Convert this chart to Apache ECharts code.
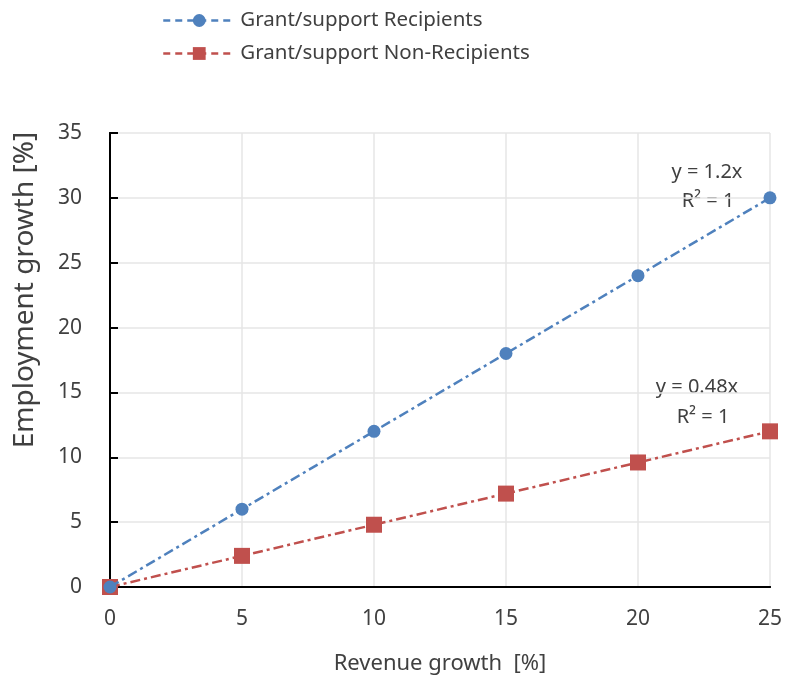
<!DOCTYPE html>
<html><head><meta charset="utf-8">
<script src="https://cdn.jsdelivr.net/npm/echarts@6/dist/echarts.min.js"></script>
<style>html,body{margin:0;padding:0;background:#fff}#c{width:785px;height:681px}</style>
</head><body><div id="c"></div>
<script>
const xValues = [0, 5, 10, 15, 20, 25];
const recipients = [0, 6, 12, 18, 24, 30];
const nonRecipients = [0, 2.4, 4.8, 7.2, 9.6, 12];
const seriesNames = ['Grant/support Recipients', 'Grant/support Non-Recipients'];
const xName = 'Revenue growth  [%]';
const yName = 'Employment growth [%]';
const eq1 = ['y = 1.2x', 'R² = 1'];
const eq2 = ['y = 0.48x', 'R² = 1'];

const FONT = '"Noto Sans", "Open Sans", sans-serif';
const TXT = '#404040';
const chart = echarts.init(document.getElementById('c'));
const pair = arr => xValues.map((x, i) => [x, arr[i]]);
const dash = [10, 4, 3, 4];
const blackLine = {show: true, lineStyle: {color: '#000', width: 2}};
chart.setOption({
  animation: false,
  grid: {left: 110, right: 14, top: 133, bottom: 94},
  legend: {
    orient: 'vertical', left: 157, top: 5, itemGap: 12, itemWidth: 72, itemHeight: 16,
    textStyle: {fontFamily: FONT, fontSize: 20.5, color: TXT},
    lineStyle: {type: [7, 5], width: 2.5},
    data: seriesNames
  },
  xAxis: [{
    type: 'value', min: 0, max: 25, interval: 5,
    name: xName, nameLocation: 'middle', nameGap: 66,
    nameTextStyle: {fontFamily: FONT, fontSize: 22, color: TXT},
    axisLine: blackLine,
    axisTick: {show: false},
    axisLabel: {fontFamily: FONT, fontSize: 21, color: TXT, margin: 22},
    splitLine: {show: true, lineStyle: {color: '#e6e6e6', width: 1.5}}
  }, {
    type: 'value', position: 'top', min: 0, max: 25, interval: 5,
    axisLine: blackLine, axisTick: {show: false}, axisLabel: {show: false}, splitLine: {show: false}
  }],
  yAxis: [{
    type: 'value', min: 0, max: 35, interval: 5,
    axisLine: blackLine,
    axisTick: {show: true, inside: true, length: 8, lineStyle: {color: '#000', width: 2}},
    axisLabel: {fontFamily: FONT, fontSize: 21, color: TXT, margin: 28},
    splitLine: {show: true, lineStyle: {color: '#e6e6e6', width: 1.5}}
  }, {
    type: 'value', position: 'right', min: 0, max: 35, interval: 5,
    axisLine: blackLine, axisTick: {show: false}, axisLabel: {show: false}, splitLine: {show: false}
  }],
  series: [
    {name: seriesNames[0], type: 'line', data: pair(recipients), symbol: 'circle', symbolSize: 13,
     itemStyle: {color: '#4f81bd'}, lineStyle: {color: '#4f81bd', width: 2.5, type: dash}, z: 3},
    {name: seriesNames[1], type: 'line', data: pair(nonRecipients), symbol: 'rect', symbolSize: 16,
     itemStyle: {color: '#c0504d'}, lineStyle: {color: '#c0504d', width: 2.5, type: dash}, z: 2}
  ],
  graphic: [
    {type: 'text', x: 25, y: 290, rotation: Math.PI / 2,
     style: {text: yName, fontFamily: FONT, fontSize: 28, fill: TXT, align: 'center', verticalAlign: 'middle'}},
    {type: 'text', x: 707, y: 172, style: {text: eq1[0], fontFamily: FONT, fontSize: 20, fill: TXT, align: 'center', verticalAlign: 'middle'}},
    {type: 'text', x: 708, y: 201, style: {text: eq1[1], fontFamily: FONT, fontSize: 20, fill: TXT, align: 'center', verticalAlign: 'middle'}},
    {type: 'text', x: 697, y: 387, style: {text: eq2[0], fontFamily: FONT, fontSize: 20, fill: TXT, align: 'center', verticalAlign: 'middle'}},
    {type: 'text', x: 703, y: 417, style: {text: eq2[1], fontFamily: FONT, fontSize: 20, fill: TXT, align: 'center', verticalAlign: 'middle'}}
  ]
});
</script></body></html>
